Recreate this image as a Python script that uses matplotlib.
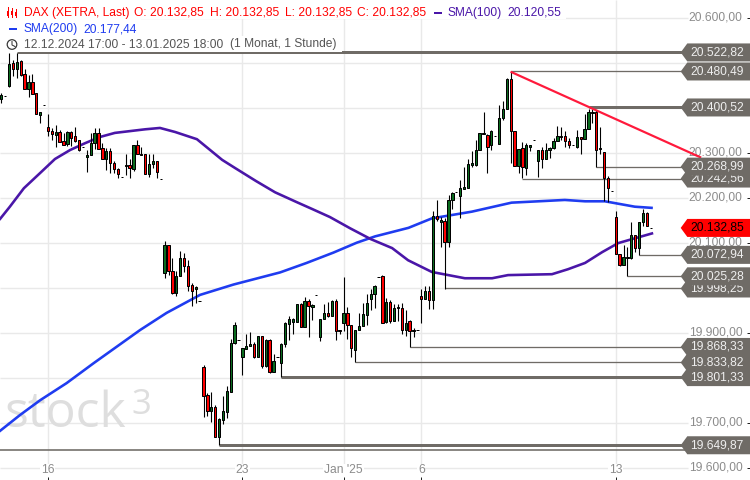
import matplotlib
matplotlib.use("Agg")
import matplotlib.pyplot as plt
from matplotlib.patches import Circle, Polygon, Rectangle

plt.rcParams["font.family"] = ["Liberation Sans", "DejaVu Sans"]

# hourly candles, left to right
opens = [
    20420, 20425, 20448, 20500, 20486, 20503, 20474, 20441, 20456, 20432,
    20384, 20405, 20358, 20349, 20340, 20345, 20327, 20320, 20345, 20336,
    20329, 20312, 20290, 20294, 20321, 20343, 20310, 20285, 20303, 20276,
    20263, 20245, 20271, 20272, 20264, 20318, 20298, 20296, 20253, 20274,
    20281, 20241, 20032, 20096, 20037, 19989, 20027, 20067, 20049, 20006,
    19997, 19970, 19823, 19761, 19726, 19734, 19669, 19706, 19724, 19769,
    19878, 19883, 19846, 19864, 19871, 19876, 19846, 19892, 19826, 19883,
    19813, 19847, 19832, 19876, 19919, 19924, 19924, 19963, 19912, 19970,
    19958, 19983, 19891, 19930, 19943, 19938, 19970, 19907, 19922, 19943,
    19918, 19862, 19907, 19914, 19939, 19974, 19987, 20023, 20027, 19923,
    19969, 19926, 19954, 19956, 19907, 19925, 19903, 19905, 19981, 19976,
    19992, 19972, 20160, 20146, 20148, 20101, 20194, 20213, 20204, 20220,
    20222, 20272, 20272, 20307, 20341, 20340, 20316, 20338, 20319, 20376,
    20396, 20463, 20349, 20271, 20310, 20266, 20313, 20328, 20282, 20307,
    20285, 20305, 20310, 20326, 20334, 20336, 20327, 20316, 20313, 20334,
    20330, 20352, 20389, 20390, 20308, 20301, 20243, 20215, 20156, 20076,
    20050, 20069, 20065, 20118, 20089, 20145, 20167, 20133,
]
highs = [
    20432, 20425, 20521, 20506, 20522, 20506, 20485, 20472, 20475, 20432,
    20390, 20405, 20385, 20354, 20361, 20350, 20343, 20348, 20348, 20356,
    20329, 20312, 20307, 20343, 20354, 20354, 20321, 20310, 20310, 20281,
    20265, 20245, 20298, 20287, 20318, 20328, 20312, 20296, 20298, 20298,
    20282, 20241, 20103, 20096, 20067, 20037, 20081, 20078, 20061, 20010,
    20003, 19970, 19828, 19767, 19769, 19739, 19711, 19759, 19782, 19886,
    19923, 19883, 19865, 19898, 19901, 19880, 19892, 19892, 19887, 19887,
    19852, 19847, 19878, 19924, 19938, 19933, 19963, 19967, 19980, 19974,
    19964, 19983, 19930, 19964, 19969, 19972, 19976, 19907, 20024, 19958,
    19918, 19907, 19943, 19965, 19987, 19998, 20007, 20023, 20029, 19978,
    19972, 19963, 19963, 19966, 19950, 19928, 19910, 19905, 19998, 20003,
    20003, 20170, 20195, 20158, 20154, 20206, 20212, 20213, 20239, 20269,
    20287, 20304, 20328, 20343, 20391, 20341, 20350, 20338, 20407, 20415,
    20467, 20480, 20349, 20308, 20323, 20322, 20318, 20328, 20307, 20313,
    20321, 20313, 20332, 20360, 20357, 20348, 20333, 20316, 20350, 20334,
    20385, 20398, 20398, 20395, 20356, 20301, 20248, 20215, 20170, 20076,
    20096, 20091, 20146, 20118, 20146, 20175, 20168, 20133,
]
lows = [
    20411, 20425, 20445, 20470, 20466, 20470, 20441, 20423, 20431, 20385,
    20366, 20405, 20338, 20329, 20312, 20324, 20317, 20315, 20315, 20324,
    20304, 20312, 20258, 20294, 20309, 20309, 20285, 20261, 20254, 20255,
    20243, 20245, 20250, 20243, 20260, 20298, 20294, 20252, 20245, 20265,
    20243, 20241, 20022, 20028, 19985, 19982, 20027, 20035, 19992, 19960,
    19965, 19970, 19713, 19715, 19702, 19669, 19650, 19698, 19711, 19769,
    19876, 19883, 19806, 19864, 19871, 19844, 19846, 19822, 19824, 19811,
    19813, 19847, 19801, 19869, 19884, 19898, 19924, 19912, 19912, 19891,
    19928, 19983, 19881, 19930, 19935, 19938, 19884, 19898, 19903, 19886,
    19846, 19834, 19907, 19914, 19918, 19950, 19955, 20023, 19921, 19921,
    19921, 19926, 19926, 19898, 19893, 19868, 19891, 19905, 19922, 19976,
    19952, 19952, 20148, 20091, 19998, 20091, 20175, 20213, 20154, 20220,
    20222, 20268, 20271, 20307, 20341, 20255, 20306, 20338, 20319, 20372,
    20396, 20278, 20271, 20255, 20243, 20250, 20303, 20328, 20246, 20266,
    20285, 20289, 20308, 20326, 20329, 20312, 20310, 20316, 20310, 20296,
    20330, 20352, 20366, 20269, 20296, 20192, 20191, 20215, 20076, 20049,
    20050, 20025, 20064, 20080, 20073, 20137, 20136, 20133,
]
closes = [
    20428, 20425, 20498, 20487, 20501, 20472, 20441, 20456, 20431, 20385,
    20390, 20405, 20349, 20341, 20345, 20324, 20318, 20345, 20332, 20327,
    20307, 20312, 20294, 20321, 20343, 20309, 20285, 20303, 20276, 20263,
    20252, 20245, 20273, 20265, 20318, 20298, 20294, 20253, 20274, 20281,
    20258, 20241, 20096, 20037, 19989, 20027, 20067, 20049, 20004, 19993,
    20001, 19970, 19760, 19726, 19734, 19669, 19708, 19726, 19770, 19877,
    19917, 19883, 19865, 19870, 19876, 19846, 19892, 19826, 19883, 19813,
    19838, 19847, 19874, 19921, 19930, 19930, 19963, 19912, 19970, 19960,
    19961, 19983, 19930, 19943, 19938, 19970, 19903, 19903, 19943, 19917,
    19865, 19907, 19916, 19941, 19967, 19987, 20003, 20023, 19921, 19969,
    19925, 19956, 19957, 19907, 19921, 19903, 19907, 19905, 19976, 19992,
    19972, 20160, 20152, 20150, 20101, 20195, 20210, 20213, 20221, 20223,
    20274, 20276, 20307, 20343, 20343, 20313, 20348, 20338, 20376, 20396,
    20463, 20349, 20271, 20308, 20269, 20317, 20316, 20328, 20307, 20285,
    20305, 20310, 20327, 20336, 20337, 20327, 20318, 20316, 20334, 20330,
    20352, 20390, 20391, 20307, 20310, 20244, 20221, 20215, 20076, 20050,
    20069, 20065, 20118, 20089, 20146, 20167, 20136, 20133,
]

# moving averages, read at bar positions
sma100_bars = [-0.3, 2.2, 5.8, 10, 13.8, 17.7, 21.5, 25.4, 29.2, 33.1, 37, 40.8, 44.7, 50.3,
               56.8, 60.1, 65.5, 70.4, 76, 79.9, 84.5, 89.7, 95, 100.5, 104.6, 110.7, 119.2,
               126.2, 130.3, 141.6, 145.7, 150.1, 154.5, 158.6, 162.2, 167.3]
sma100_vals = [20153, 20180, 20221, 20255, 20286, 20306, 20321, 20335, 20344, 20348, 20352, 20355,
               20346, 20330, 20284, 20266, 20237, 20212, 20190, 20175, 20157, 20132, 20108, 20088,
               20061, 20035, 20021, 20021, 20028, 20030, 20041, 20055, 20079, 20099, 20108, 20120.55]
sma200_bars = [-0.3, 4.8, 10, 16.8, 23.7, 29.7, 35.7, 42.5, 51.1, 59.7, 71.7, 78.5, 85.4, 91.4,
               96.1, 104.7, 110.7, 121, 131.2, 138.1, 144.9, 150.1, 155.2, 162.9, 167.2]
sma200_vals = [19682, 19717, 19750, 19788, 19832, 19869, 19906, 19944, 19984, 20007, 20034, 20055,
               20078, 20100, 20114, 20133, 20154, 20169, 20189, 20192, 20195, 20192, 20192, 20180,
               20177.44]

# trend line
trend_bars = [131.2, 179.7]
trend_vals = [20479, 20290]

# marked highs and lows: value, first bar, thick or not
level_vals = [19649.87, 19801.33, 19833.82, 19868.33, 19998.25, 20025.28, 20072.94,
              20242.56, 20268.99, 20400.52, 20480.49, 20522.82]
level_bars = [56, 72, 91, 105, 114, 161, 164, 134, 153, 151, 131, 4]
level_thick = [True, True, False, False, False, False, False, False, False, True, False, True]
floor_line = 19640
last_price = 20132.85

y_ticks = [19600, 19700, 19800, 19900, 20000, 20100, 20200, 20300, 20400, 20500, 20600]
y_labelled = [19600, 19700, 19900, 20100, 20200, 20300, 20600]
x_ticks = [12, 62, 88, 108, 158]
x_labels = ["16", "23", "Jan '25", "6", "13"]

GREEN = "#0a6b1e"
RED = "#ff0000"
GREY = "#6f6b66"
TICK_GREY = "#8c8c8c"
PX = 0.72  # one pixel in points at dpi 100
FS = 8.64
BAR_PX = 3.889
BAR_0 = 1.3


def fmt(v):
    return f"{v:,.2f}".replace(",", "X").replace(".", ",").replace("X", ".")


def bar_at(px):
    return (px - BAR_0) / BAR_PX


fig = plt.figure(figsize=(7.5, 4.8), dpi=100)
ax = fig.add_axes([0, 0, 1, 1])
ax.set_xlim(bar_at(0), bar_at(750))
ax.set_ylim(19572.67, 20639.33)
for s in ax.spines.values():
    s.set_visible(False)

# grid stops short of the price labels
ax.hlines(y_ticks, 0, 688 / 750, color="#e9e9e9", lw=1.4 * PX, transform=ax.get_yaxis_transform(), zorder=1)
ax.vlines(x_ticks, 19600, 20639, color="#e9e9e9", lw=1.4 * PX, zorder=1)

# ticks
ax.yaxis.tick_right()
ax.set_yticks(y_labelled)
ax.set_yticklabels([])
ax.set_xticks(x_ticks)
ax.set_xticklabels([])
ax.tick_params(axis="both", direction="in", length=3 * PX * 1.1, width=PX, color="#222222")
for v in y_labelled:
    ax.text(742.7 / 750, v, fmt(v), transform=ax.get_yaxis_transform(), ha="right", va="center",
            fontsize=FS, color=TICK_GREY, zorder=2)
for t, lab in zip(x_ticks, x_labels):
    ax.text(t, 19594, lab, ha="center", va="center", fontsize=FS, color=TICK_GREY, zorder=2,
            bbox=dict(fc="white", ec="none", pad=0.5))

# watermark
ax.text(4 / 750, 1 - 427 / 480, "stock", transform=ax.transAxes, fontsize=36, color="#dedede",
        family="Open Sans", ha="left", va="baseline", zorder=1)
ax.text(131 / 750, 1 - 414 / 480, "3", transform=ax.transAxes, fontsize=25, color="#dedede",
        family="Open Sans", ha="left", va="baseline", zorder=1)

# level lines
for v, b, thick in zip(level_vals, level_bars, level_thick):
    ax.hlines(v, b, bar_at(685), color=GREY, lw=(3 if thick else 1.3) * PX, zorder=3)
ax.hlines(floor_line, bar_at(0), bar_at(685), color=GREY, lw=1.6 * PX, zorder=3)

# moving averages
ax.plot(sma200_bars, sma200_vals, color="#1f3cf0", lw=2.6 * PX, zorder=4)
ax.plot(sma100_bars, sma100_vals, color="#4a16a8", lw=2.6 * PX, zorder=4)

# candles
bars = list(range(len(opens)))
ax.vlines(bars, lows, highs, color="black", lw=1.1 * PX, zorder=5)
body_low = [min(o, c) for o, c in zip(opens, closes)]
body_h = [abs(c - o) for o, c in zip(opens, closes)]
body_col = [GREEN if c >= o else RED for o, c in zip(opens, closes)]
ax.bar(bars, body_h, bottom=body_low, width=0.6, color=body_col, edgecolor="black", linewidth=PX, zorder=6)

# trend line
ax.plot(trend_bars, trend_vals, color="#ff1a3c", lw=2.2 * PX, zorder=7)

# price tags, low to high so the upper tag covers the one below
trans = ax.get_yaxis_transform()
half = 9 / 0.45


def price_tag(v, col, txt_col, z):
    pts = [(680.7 / 750, v), (687.3 / 750, v + half), (1, v + half), (1, v - half), (687.3 / 750, v - half)]
    ax.add_patch(Polygon(pts, closed=True, fc=col, ec="none", transform=trans, zorder=z))
    ax.text(690 / 750, v, fmt(v), transform=trans, ha="left", va="center", fontsize=FS, color=txt_col, zorder=z + 0.01)


for i, v in enumerate(level_vals):
    price_tag(v, GREY, "#eeeeee", 8 + i * 0.1)
price_tag(last_price, RED, "black", 10)

# header drawn in pixel space on top
top = fig.add_axes([0, 0, 1, 1])
top.set_xlim(0, 750)
top.set_ylim(480, 0)
top.axis("off")
top.patch.set_alpha(0)
top.add_patch(Rectangle((0, 0), 566, 18.5, fc="white", ec="none"))
top.add_patch(Rectangle((0, 18.5), 141, 17, fc="white", ec="none"))
top.add_patch(Rectangle((0, 35.5), 342, 16.7, fc="white", ec="none"))

row1 = [(23.5, "DAX (XETRA, Last)"), (134, "O: 20.132,85"), (209.7, "H: 20.132,85"),
        (284.7, "L: 20.132,85"), (357, "C: 20.132,85")]
for x, s in row1:
    top.text(x, 12.7, s, color=RED, fontsize=FS, ha="left", va="center")
top.text(447.5, 12.7, "SMA(100)", color="#4a16a8", fontsize=FS, ha="left", va="center")
top.text(507, 12.7, "20.120,55", color="#4a16a8", fontsize=FS, ha="left", va="center")
top.text(23.5, 29, "SMA(200)", color="#1f3cf0", fontsize=FS, ha="left", va="center")
top.text(83, 29, "20.177,44", color="#1f3cf0", fontsize=FS, ha="left", va="center")
top.text(23.5, 44.5, "12.12.2024 17:00 - 13.01.2025 18:00", color="#555555", fontsize=FS, ha="left", va="center")
top.text(229.5, 44.5, "(1 Monat, 1 Stunde)", color="#555555", fontsize=FS, ha="left", va="center")

# legend icons
top.add_patch(Rectangle((434, 11.7), 8, 2.6, fc="#4a16a8", ec="none"))
top.add_patch(Rectangle((9, 27.7), 8, 2.6, fc="#1f3cf0", ec="none"))
for x, y0, y1, b0, b1 in [(7.5, 7, 17, 11, 16), (11.5, 8, 17, 11, 15), (15.5, 9, 17, 12, 16)]:
    top.plot([x, x], [y0, y1], color=RED, lw=PX)
    top.add_patch(Rectangle((x - 1, b0), 2, b1 - b0, fc=RED, ec="none"))
top.add_patch(Circle((12, 44.5), 4.8, fc="none", ec="#333333", lw=PX * 1.2))
top.plot([12, 12, 15], [41.5, 45, 46.5], color="#333333", lw=PX)

fig.savefig("out.png", dpi=100)
